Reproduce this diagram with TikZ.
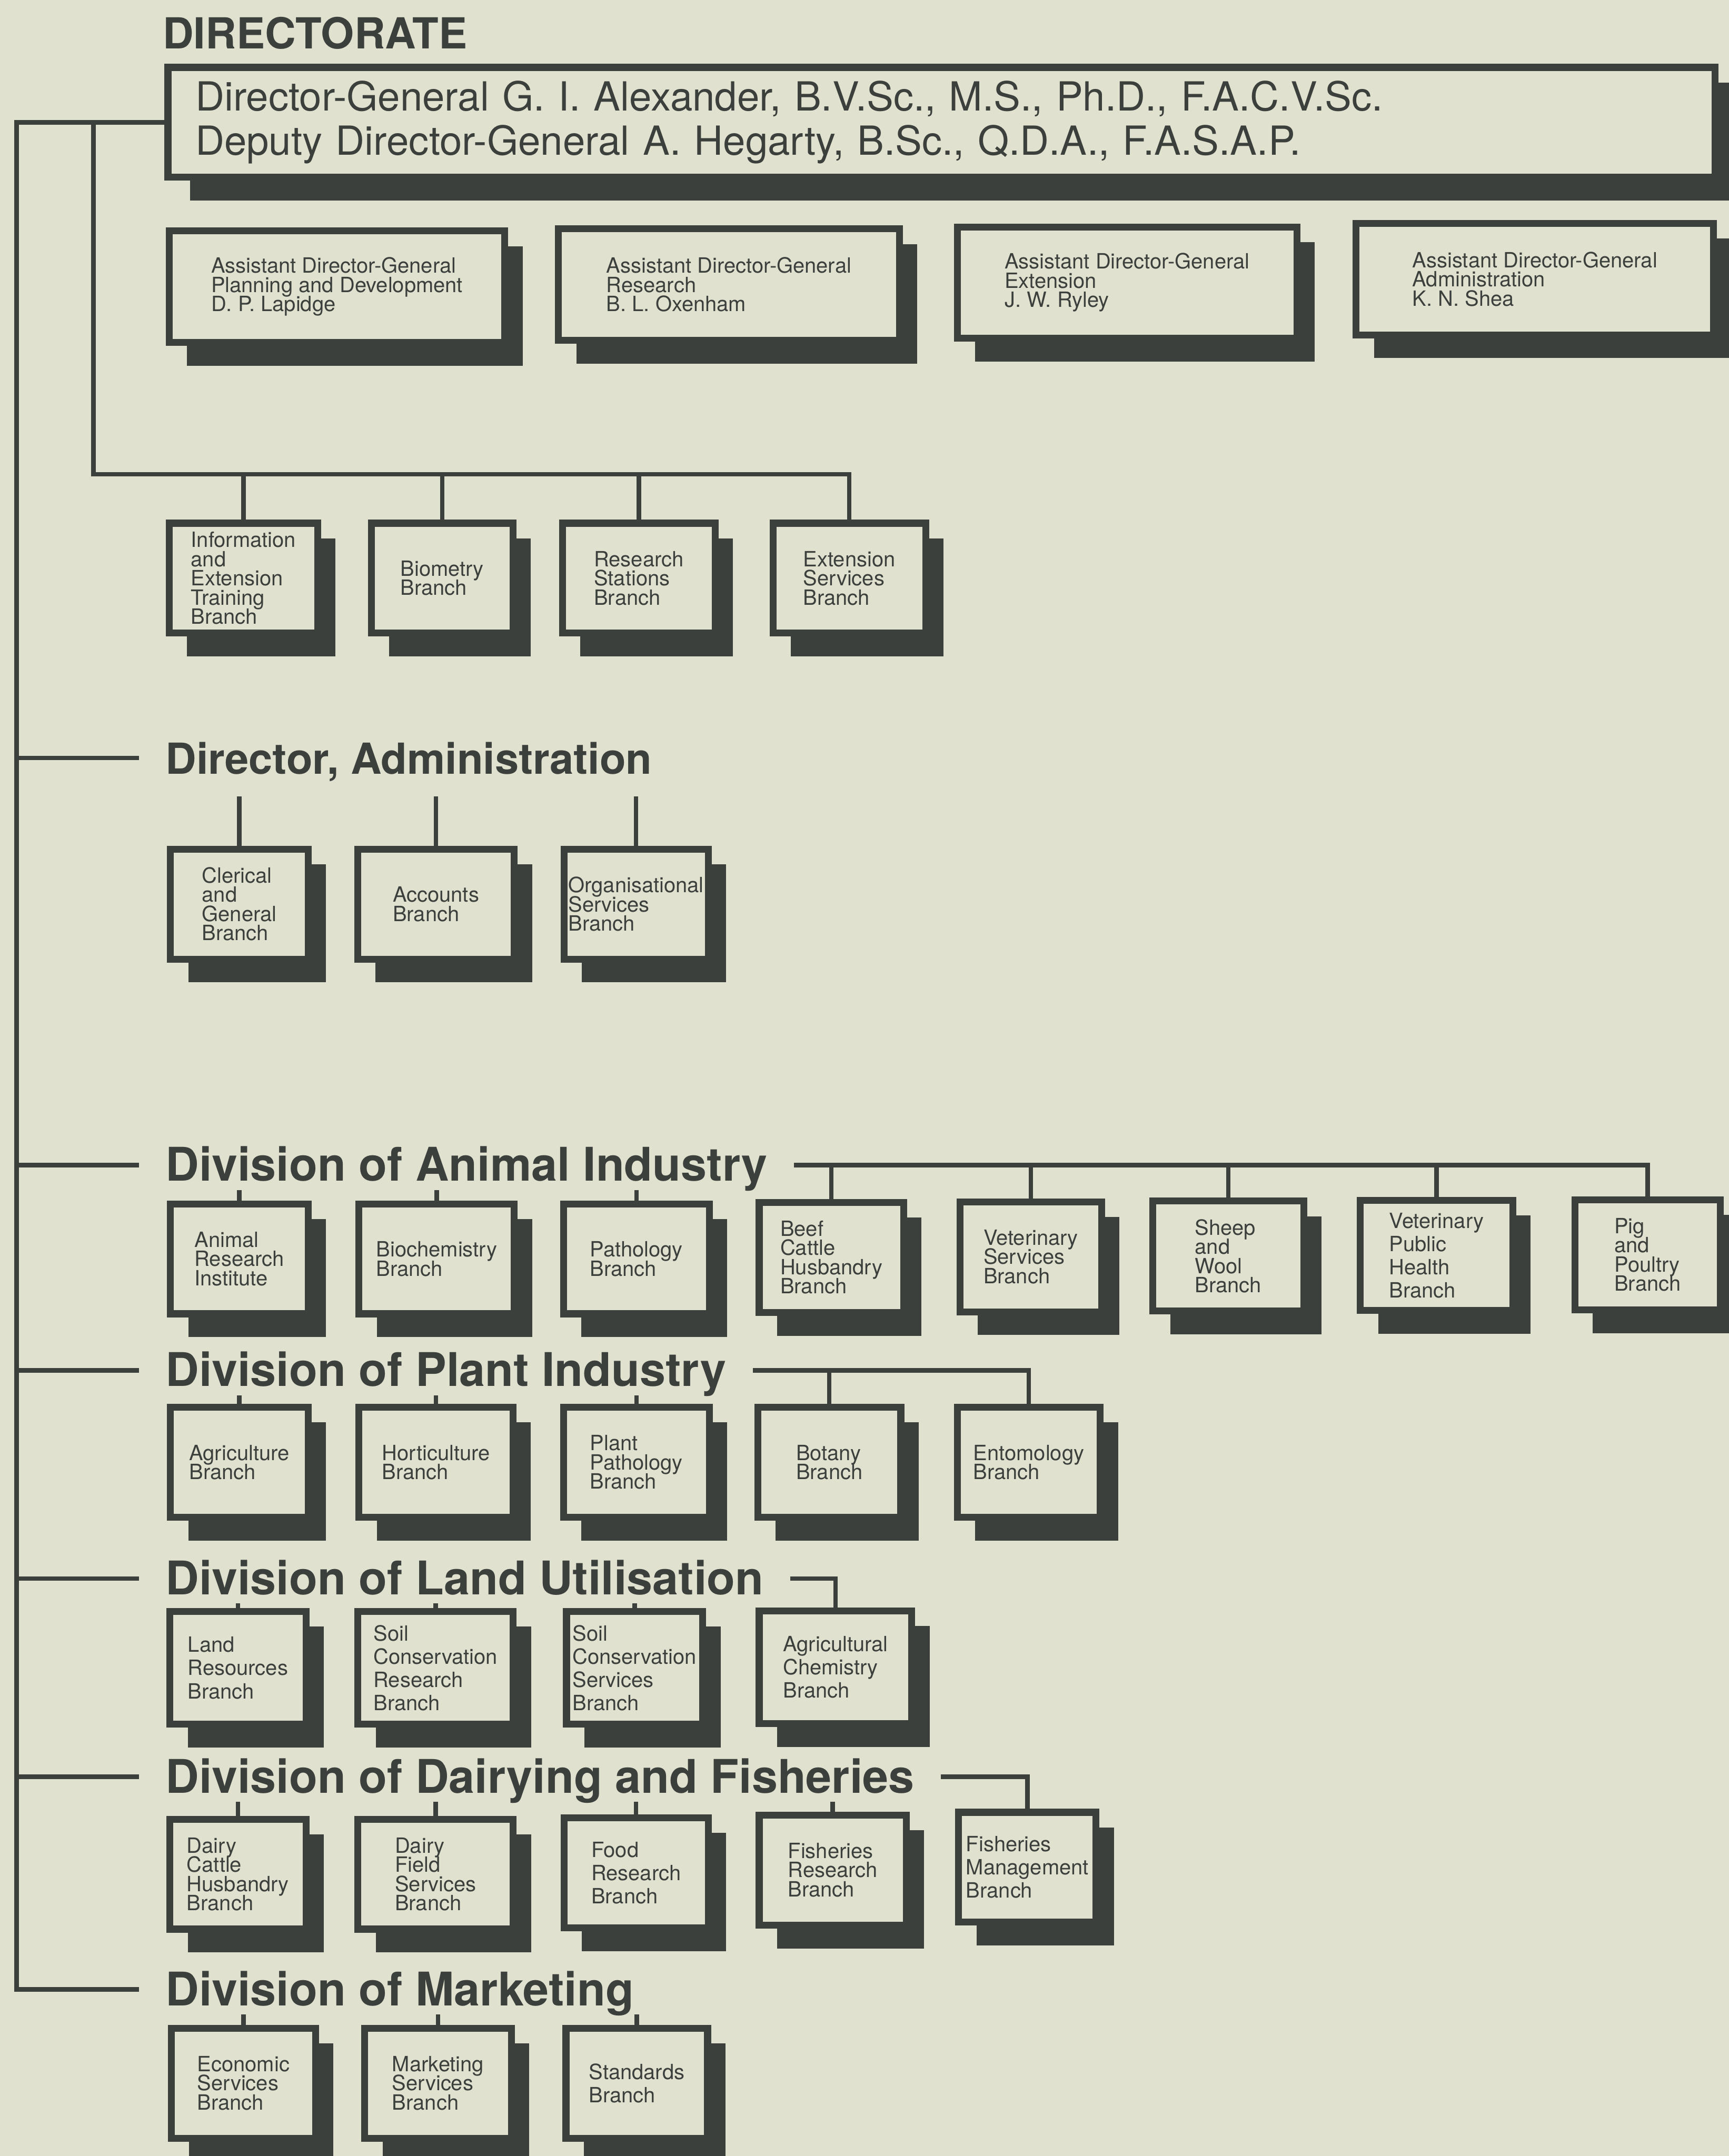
\documentclass[tikz,border=0pt]{standalone}
\usepackage{fontspec}
\setmainfont{TeX Gyre Heros}
\usetikzlibrary{shadows}

\definecolor{paper}{RGB}{225,225,208}
\definecolor{ink}{RGB}{60,64,60}

\newcommand\branchfont{\fontsize{8.7}{7.95}\selectfont\lineskiplimit=-4pt\lineskip=0pt}
\newcommand\loosefont{\fontsize{8.7}{9.6}\selectfont}
\newcommand\dgfont{\fontsize{16.6}{18.2}\selectfont}
\newcommand\divfont{\bfseries\fontsize{19.2}{22}\selectfont}
\newcommand\headfont{\bfseries\fontsize{17.7}{20}\selectfont}

\begin{document}
\begin{tikzpicture}[x=0.02cm, y=-0.02cm,
    box/.style={draw=ink, fill=paper, line width=0.1cm},
    slab/.style={drop shadow={shadow xshift=#1, shadow yshift=-0.22cm, fill=ink, opacity=1},
                 drop shadow={shadow xshift=#1, shadow yshift=-0.34cm, fill=ink, opacity=1}},
    slab/.default=0.26cm,
    branch/.style={box, slab, font=\branchfont, text=ink, align=left, inner sep=0pt, minimum width=#1, minimum height=1.6cm},
    loose/.style={font=\loosefont},
    division/.style={font=\divfont, text=ink, anchor=base west, inner xsep=0.38cm, inner ysep=0.09cm, text height=0.5cm, text depth=0.03cm},
    wire/.style={draw=ink, line width=0.065cm}
]
    \useasboundingbox (0,0) rectangle (1257,1568);
    \fill[paper] (0,0) rectangle (1257,1568);

    % Directorate
    \node[font=\headfont, text=ink, anchor=base west, inner sep=0pt] (directorate) at (118,35.6) {DIRECTORATE};
    \node[box, slab=0.32cm, font=\dgfont, text=ink, align=left, text width=21.7cm, inner xsep=0.4cm, minimum height=1.6cm] (dg) at (684.5,89)
        {Director-General G. I. Alexander, B.V.Sc., M.S., Ph.D., F.A.C.V.Sc.\\Deputy Director-General A. Hegarty, B.Sc., Q.D.A., F.A.S.A.P.};

    % Assistant directors-general
    \node[branch=4.88cm, minimum height=1.62cm] (adgplan) at (245,208.5) {Assistant Director-General\\Planning and Development\\D. P. Lapidge};
    \node[branch=4.96cm, minimum height=1.62cm] (adgres) at (530,207) {Assistant Director-General\\Research\\B. L. Oxenham};
    \node[branch=4.94cm, minimum height=1.62cm] (adgext) at (819.5,205.5) {Assistant Director-General\\Extension\\J. W. Ryley};
    \node[branch=5.20cm, minimum height=1.62cm] (adgadm) at (1116,203) {Assistant Director-General\\Administration\\K. N. Shea};

    % Directorate branches
    \node[branch=2.16cm] (infotrain) at (177,420.5) {Information\\and\\Extension\\Training\\Branch};
    \node[branch=2.06cm] (biometry) at (321.5,420.5) {Biometry\\Branch};
    \node[branch=2.22cm] (resstat) at (464.5,420.5) {Research\\Stations\\Branch};
    \node[branch=2.22cm] (extserv) at (617.5,420.5) {Extension\\Services\\Branch};

    % Director, Administration
    \node[division, font=\headfont] (admin) at (101,563) {Director, Administration};
    \node[branch=2.00cm] (clerical) at (174,657.5) {Clerical\\and\\General\\Branch};
    \node[branch=2.28cm] (accounts) at (317,657.5) {Accounts\\Branch};
    \node[branch=2.10cm] (orgserv) at (462.5,657.5) {Organisational\\Services\\Branch};

    % Division of Animal Industry
    \node[division] (animal) at (101,859) {Division of Animal Industry};
    \node[branch=2.00cm] (ari) at (174,915.5) {Animal\\Research\\Institute};
    \node[branch=2.26cm] (biochem) at (317.5,915.5) {Biochemistry\\Branch};
    \node[branch=2.12cm] (pathol) at (462.75,915.5) {Pathology\\Branch};
    \node[branch=2.10cm] (beef) at (604.5,914.5) {Beef\\Cattle\\Husbandry\\Branch};
    \node[branch=2.06cm] (vetserv) at (749.5,914) {Veterinary\\Services\\Branch};
    \node[branch=2.20cm] (sheep) at (893,913.5) {Sheep\\and\\Wool\\Branch};
    \node[branch=2.22cm, loose] (vph) at (1044.5,913) {Veterinary\\Public\\Health\\Branch};
    \node[branch=2.12cm] (pig) at (1198,912.5) {Pig\\and\\Poultry\\Branch};

    % Division of Plant Industry
    \node[division] (plant) at (101,1008.3) {Division of Plant Industry};
    \node[branch=2.00cm] (agric) at (174,1063.5) {Agriculture\\Branch};
    \node[branch=2.24cm] (hort) at (317,1063.5) {Horticulture\\Branch};
    \node[branch=2.12cm] (plpath) at (462.75,1063.5) {Plant\\Pathology\\Branch};
    \node[branch=2.08cm] (botany) at (603,1063.5) {Botany\\Branch};
    \node[branch=2.08cm] (entom) at (748,1063.5) {Entomology\\Branch};

    % Division of Land Utilisation
    \node[division] (land) at (101,1159.7) {Division of Land Utilisation};
    \node[branch=1.98cm, loose, minimum height=1.64cm] (landres) at (173,1213) {Land\\Resources\\Branch};
    \node[branch=2.26cm, loose, minimum height=1.64cm] (scres) at (316.7,1213) {Soil\\Conservation\\Research\\Branch};
    \node[branch=1.98cm, loose, minimum height=1.64cm] (scserv) at (461.4,1213) {Soil\\Conservation\\Services\\Branch};
    \node[branch=2.22cm, loose, minimum height=1.64cm] (agchem) at (607.5,1212.5) {Agricultural\\Chemistry\\Branch};

    % Division of Dairying and Fisheries
    \node[division] (dairy) at (101,1304) {Division of Dairying and Fisheries};
    \node[branch=1.98cm] (dairyhus) at (173,1363) {Dairy\\Cattle\\Husbandry\\Branch};
    \node[branch=2.26cm] (dairyfield) at (316.7,1363) {Dairy\\Field\\Services\\Branch};
    \node[branch=2.10cm, loose] (foodres) at (462.5,1362) {Food\\Research\\Branch};
    \node[branch=2.14cm] (fishres) at (605.5,1360) {Fisheries\\Research\\Branch};
    \node[branch=2.00cm, loose] (fishmgmt) at (747,1358) {Fisheries\\Management\\Branch};

    % Division of Marketing
    \node[division] (market) at (101,1458.6) {Division of Marketing};
    \node[branch=2.10cm] (econ) at (177,1515) {Economic\\Services\\Branch};
    \node[branch=2.13cm] (mktserv) at (318.5,1515) {Marketing\\Services\\Branch};
    \node[branch=2.06cm, loose] (standards) at (463,1515) {Standards\\Branch};

    % Spine
    \coordinate (trunk) at (12,89);
    \coordinate (fork) at (68,89);
    \coordinate (bus) at (68,345);
    \draw[wire] (dg.west) -- (trunk) -- (trunk |- market.west) -- (market.west);
    \draw[wire] (trunk |- admin.west) -- (admin.west);
    \draw[wire] (trunk |- animal.west) -- (animal.west);
    \draw[wire] (trunk |- plant.west) -- (plant.west);
    \draw[wire] (trunk |- land.west) -- (land.west);
    \draw[wire] (trunk |- dairy.west) -- (dairy.west);

    % Directorate branches
    \draw[wire] (fork) -- (bus) -| (extserv.north);
    \draw[wire] (infotrain.north) -- (infotrain.north |- bus);
    \draw[wire] (biometry.north) -- (biometry.north |- bus);
    \draw[wire] (resstat.north) -- (resstat.north |- bus);

    % Administration
    \draw[wire] (clerical.north) -- ++(0,-36);
    \draw[wire] (accounts.north) -- ++(0,-36);
    \draw[wire] (orgserv.north) -- ++(0,-36);

    % Animal Industry
    \draw[wire] (ari.north) -- (ari.north |- animal.south);
    \draw[wire] (biochem.north) -- (biochem.north |- animal.south);
    \draw[wire] (pathol.north) -- (pathol.north |- animal.south);
    \draw[wire] (animal.east) -| (pig.north);
    \draw[wire] (beef.north) -- (beef.north |- animal.east);
    \draw[wire] (vetserv.north) -- (vetserv.north |- animal.east);
    \draw[wire] (sheep.north) -- (sheep.north |- animal.east);
    \draw[wire] (vph.north) -- (vph.north |- animal.east);

    % Plant Industry
    \draw[wire] (agric.north) -- (agric.north |- plant.south);
    \draw[wire] (hort.north) -- (hort.north |- plant.south);
    \draw[wire] (plpath.north) -- (plpath.north |- plant.south);
    \draw[wire] (plant.east) -| (entom.north);
    \draw[wire] (botany.north) -- (botany.north |- plant.east);

    % Land Utilisation
    \draw[wire] (landres.north) -- (landres.north |- land.south);
    \draw[wire] (scres.north) -- (scres.north |- land.south);
    \draw[wire] (scserv.north) -- (scserv.north |- land.south);
    \draw[wire] (land.east) -| (agchem.north);

    % Dairying and Fisheries
    \draw[wire] (dairyhus.north) -- (dairyhus.north |- dairy.south);
    \draw[wire] (dairyfield.north) -- (dairyfield.north |- dairy.south);
    \draw[wire] (foodres.north) -- (foodres.north |- dairy.south);
    \draw[wire] (fishres.north) -- (fishres.north |- dairy.south);
    \draw[wire] (dairy.east) -| (fishmgmt.north);

    % Marketing
    \draw[wire] (econ.north) -- (econ.north |- market.south);
    \draw[wire] (mktserv.north) -- (mktserv.north |- market.south);
    \draw[wire] (standards.north) -- (standards.north |- market.south);
\end{tikzpicture}
\end{document}
